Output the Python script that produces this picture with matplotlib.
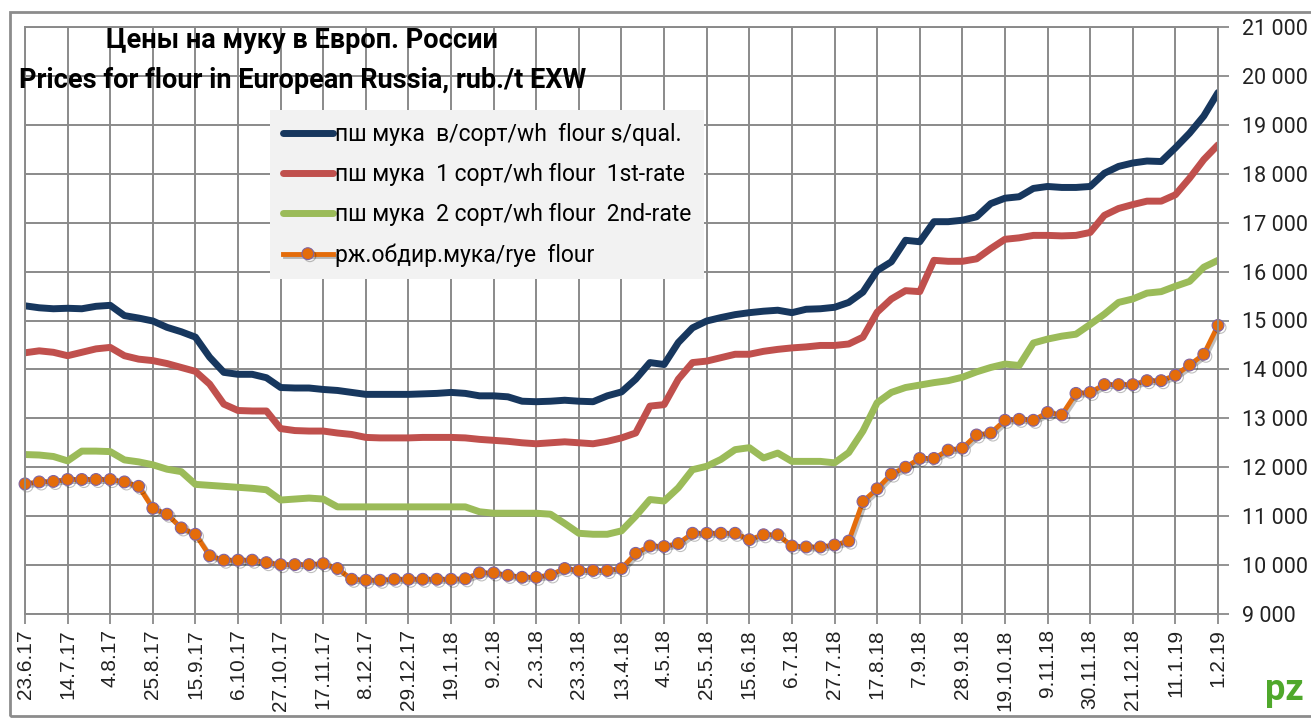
import matplotlib.pyplot as plt
import matplotlib.patheffects as pe
from matplotlib.patches import Rectangle

# weekly prices, 23.6.17 ... 1.2.19 (85 weeks)
dates = ['23.6.17', '14.7.17', '4.8.17', '25.8.17', '15.9.17', '6.10.17', '27.10.17',
         '17.11.17', '8.12.17', '29.12.17', '19.1.18', '9.2.18', '2.3.18', '23.3.18',
         '13.4.18', '4.5.18', '25.5.18', '15.6.18', '6.7.18', '27.7.18', '17.8.18',
         '7.9.18', '28.9.18', '19.10.18', '9.11.18', '30.11.18', '21.12.18', '11.1.19', '1.2.19']

flour_top = [15300, 15260, 15240, 15250, 15240, 15290, 15310, 15100, 15050, 14990,
             14860, 14770, 14660, 14250, 13940, 13900, 13900, 13830, 13630, 13620,
             13620, 13590, 13570, 13530, 13490, 13490, 13490, 13490, 13500, 13510,
             13530, 13510, 13460, 13460, 13440, 13350, 13340, 13350, 13370, 13350,
             13340, 13460, 13540, 13800, 14140, 14100, 14550, 14850, 14990, 15060,
             15120, 15160, 15190, 15210, 15160, 15230, 15240, 15270, 15370, 15580,
             16020, 16200, 16640, 16610, 17020, 17020, 17050, 17120, 17390, 17500,
             17530, 17700, 17740, 17720, 17720, 17740, 18010, 18150, 18220, 18260,
             18250, 18530, 18830, 19180, 19660]

flour_1st = [14340, 14380, 14350, 14280, 14350, 14420, 14450, 14280, 14210, 14180,
             14120, 14040, 13960, 13700, 13290, 13160, 13150, 13150, 12790, 12750,
             12740, 12740, 12700, 12670, 12610, 12600, 12600, 12600, 12610, 12610,
             12610, 12600, 12570, 12550, 12530, 12500, 12480, 12500, 12520, 12500,
             12480, 12530, 12600, 12700, 13250, 13280, 13800, 14140, 14170, 14240,
             14310, 14310, 14370, 14410, 14440, 14460, 14490, 14490, 14520, 14660,
             15170, 15440, 15610, 15590, 16230, 16210, 16210, 16260, 16470, 16660,
             16690, 16740, 16740, 16730, 16740, 16800, 17150, 17290, 17370, 17440,
             17440, 17570, 17910, 18290, 18590]

flour_2nd = [12260, 12250, 12220, 12130, 12330, 12330, 12320, 12150, 12110, 12050,
             11960, 11910, 11650, 11630, 11610, 11590, 11570, 11540, 11330, 11350,
             11370, 11350, 11190, 11190, 11190, 11190, 11190, 11190, 11190, 11190,
             11190, 11190, 11090, 11060, 11060, 11060, 11060, 11040, 10850, 10650,
             10630, 10630, 10700, 11000, 11340, 11310, 11580, 11950, 12020, 12160,
             12360, 12400, 12190, 12290, 12120, 12120, 12120, 12090, 12300, 12740,
             13320, 13530, 13630, 13680, 13730, 13770, 13840, 13950, 14040, 14110,
             14080, 14540, 14620, 14680, 14720, 14920, 15130, 15370, 15440, 15560,
             15590, 15700, 15800, 16090, 16230]

rye = [11660, 11700, 11710, 11750, 11750, 11750, 11750, 11700, 11610, 11160,
       11040, 10760, 10630, 10190, 10100, 10100, 10100, 10050, 10010, 10010,
       10010, 10030, 9930, 9710, 9690, 9690, 9710, 9710, 9710, 9710,
       9710, 9720, 9840, 9840, 9790, 9750, 9750, 9800, 9930, 9890,
       9890, 9890, 9930, 10240, 10390, 10380, 10440, 10650, 10650, 10650,
       10650, 10520, 10620, 10620, 10390, 10370, 10370, 10410, 10490, 11300,
       11560, 11860, 12000, 12180, 12180, 12350, 12390, 12660, 12700, 12960,
       12980, 12960, 13120, 13070, 13510, 13530, 13690, 13690, 13690, 13770,
       13770, 13880, 14090, 14310, 14900]

labels = ['пш мука  в/сорт/wh  flour s/qual.',
          'пш мука  1 сорт/wh flour  1st-rate',
          'пш мука  2 сорт/wh flour  2nd-rate',
          'рж.обдир.мука/rye  flour']

sans = ['Roboto', 'DejaVu Sans']

W, H = 1311, 718
fig = plt.figure(figsize=(W / 100, H / 100), dpi=100)
fig.patches.append(Rectangle((10 / W, 2 / H), 1.2, 1 - 14 / H, transform=fig.transFigure,
                             fill=False, edgecolor='#8c8c8c', lw=2))
ax = fig.add_axes([25 / W, 1 - 614 / H, (1218 - 25) / W, (614 - 27) / H])

weeks = list(range(len(rye)))
ax.plot(weeks, flour_top, color='#17375e', lw=5, label=labels[0], solid_capstyle='round')
ax.plot(weeks, flour_1st, color='#c0504d', lw=5, label=labels[1], solid_capstyle='round')
ax.plot(weeks, flour_2nd, color='#9bbb59', lw=5, label=labels[2], solid_capstyle='round')
ax.plot(weeks, rye, color='#e46c0a', lw=3.5, marker='o', markersize=8.5,
        markerfacecolor='#e46c0a', markeredgecolor='#8064a2', markeredgewidth=0.8,
        label=labels[3], clip_on=False,
        path_effects=[pe.SimpleLineShadow(offset=(1.5, -1.5), alpha=0.25), pe.Normal()])

ax.set_xlim(0, len(rye) - 1)
ax.set_ylim(9000, 21000)
ax.set_xticks(range(0, len(rye), 3))
ax.set_xticklabels(dates, rotation=90, fontsize=15, family='Liberation Sans')
yt = list(range(9000, 21001, 1000))
ax.set_yticks(yt)
ax.set_yticklabels([f'{v:,}'.replace(',', ' ') for v in yt], fontsize=15.5, family=sans)
ax.yaxis.tick_right()
ax.tick_params(axis='y', length=8, width=1.3, color='#8a8a8a', pad=9, labelcolor='#222222')
ax.tick_params(axis='x', length=7, width=1.3, color='#8a8a8a', pad=4, labelcolor='#222222')
ax.grid(True, color='#8a8a8a', lw=1.4)
ax.set_axisbelow(True)
for s in ax.spines.values():
    s.set_color('#8a8a8a')
    s.set_linewidth(1.4)

leg = ax.legend(loc='upper left', bbox_to_anchor=(270 / W, 1 - 110 / H),
                bbox_transform=fig.transFigure, prop={'family': sans, 'size': 16.5},
                frameon=True, fancybox=False, facecolor='#f2f2f2', edgecolor='none',
                framealpha=1, handlelength=2.2, handletextpad=0.1, labelspacing=0.75,
                borderpad=0.55, borderaxespad=0)
leg.set_zorder(5)

fig.text(302 / W, 1 - 40 / H, 'Цены на муку в Европ. России', ha='center', va='center',
         fontsize=19.5, fontweight='bold', family=sans)
fig.text(303 / W, 1 - 80 / H, 'Prices for flour in European Russia, rub./t EXW', ha='center',
         va='center', fontsize=19.5, fontweight='bold', family=sans)
fig.text(1284 / W, 1 - 690 / H, 'pz', ha='center', va='center', fontsize=26,
         fontweight='bold', color='#4fa82b', family=sans)

fig.savefig('out.png', dpi=100)
